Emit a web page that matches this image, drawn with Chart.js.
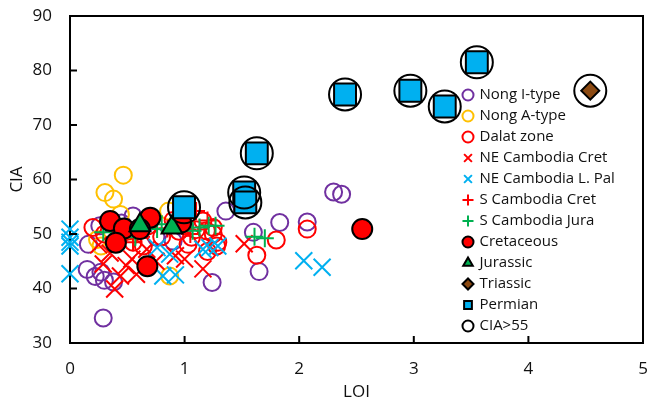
<!DOCTYPE html>
<html>
<head>
<meta charset="utf-8">
<script src="https://cdn.jsdelivr.net/npm/chart.js@4/dist/chart.umd.min.js"></script>
<style>
  body { margin: 0; background: #fff; }
  #wrap { position: relative; width: 648px; height: 404px; }
  #box { position: absolute; box-sizing: border-box; border-top: 2px solid #000; border-right: 2px solid #000;
         pointer-events: none; left: 0; top: 0; width: 0; height: 0; }
</style>
</head>
<body>
<div id="wrap"><canvas id="cia"></canvas><div id="box"></div></div>
<script>
// LOI / CIA pairs
const nongI = [[0.15,43.5],[0.22,42.2],[0.3,41.5],[0.38,41.2],[0.27,43.0],[0.29,34.6],[0.16,48.1],[0.26,51.5],
  [0.55,53.3],[0.45,52.0],[0.9,48.7],[1.24,41.1],[1.36,54.2],[1.6,50.3],[1.83,52.1],[2.07,52.2],[1.65,43.1],
  [2.30,57.7],[2.37,57.3],[0.75,49.5],[1.0,51.5]];
const nongA = [[0.465,60.8],[0.305,57.6],[0.38,56.4],[0.44,53.6],[0.86,54.2],[0.24,49.0],[0.27,47.8],[0.87,42.3],[0.55,50.5]];
const dalat = [[0.2,51.2],[0.3,50.0],[0.42,49.0],[0.55,48.5],[0.64,47.8],[0.8,49.5],[0.95,50.5],[1.03,48.1],[1.06,49.4],
  [1.1,50.8],[1.16,52.4],[1.19,50.6],[1.25,50.0],[1.25,51.2],[1.28,47.8],[1.29,48.5],[1.2,46.8],[1.63,46.1],
  [1.80,48.9],[2.07,50.9],[0.5,50.5],[0.68,51.5],[0.9,52.5]];
const neCret = [[0.29,44.5],[0.39,39.9],[0.44,42.3],[0.49,44.2],[0.54,45.4],[0.58,42.6],[0.67,47.2],[0.35,46.5],
  [0.92,46.0],[1.0,45.4],[1.16,43.6],[1.52,48.2],[0.75,45.0],[0.25,48.0]];
const nePal = [[0,50.9],[0,49.4],[0,48.5],[0,47.8],[0,42.7],[0.76,47.5],[0.81,42.3],[0.92,42.5],[0.87,46.3],
  [1.16,47.2],[1.22,47.5],[1.29,47.8],[2.04,45.1],[2.2,43.9]];
const sCret = [[1.1,54.2],[0.55,48.5],[0.62,49.5],[0.85,51.0],[1.05,50.0],[0.45,50.2],[1.2,52.5]];
const sJura = [[0.29,50.3],[0.57,49.4],[0.76,50.9],[0.8,51.8],[1.07,50.6],[1.13,51.2],[1.21,51.5],[1.27,51.5],
  [1.61,49.5],[1.70,49.2],[0.45,50.8],[0.66,51.0]];
const cretaceous = [[0.35,52.4],[0.47,51.0],[0.70,53.0],[0.40,48.4],[0.61,50.9],[0.675,44.1],[0.97,52.1],[2.55,50.9]];
const jurassic = [[0.61,51.6],[0.89,51.2]];
const triassic = [[4.54,76.3]];
const permian = [[0.995,54.9],[1.52,57.6],[1.53,55.8],[1.63,64.8],[2.40,75.6],[2.97,76.3],[3.27,73.4],[3.55,81.5]];
const cia55 = permian.concat(triassic);

const xTicks = [0, 1, 2, 3, 4, 5];
const yTicks = [30, 40, 50, 60, 70, 80, 90];

const pts = arr => arr.map(p => ({ x: p[0], y: p[1] }));

function series(label, data, style, color, fill, radius) {
  return {
    label: label,
    data: pts(data),
    pointStyle: style,
    pointRadius: radius,
    pointHoverRadius: radius,
    borderColor: fill ? '#000' : color,
    backgroundColor: fill ? color : 'rgba(0,0,0,0)',
    borderWidth: 2,
    clip: false
  };
}

const datasets = [
  series('Nong I-type', nongI, 'circle', '#7030A0', false, 8.5),
  series('Nong A-type', nongA, 'circle', '#FFC000', false, 8.5),
  series('Dalat zone', dalat, 'circle', '#FF0000', false, 8.5),
  series('NE Cambodia Cret', neCret, 'crossRot', '#FF0000', false, 12),
  series('NE Cambodia L. Pal', nePal, 'crossRot', '#00B0F0', false, 12),
  series('S Cambodia Cret', sCret, 'cross', '#FF0000', false, 9),
  series('S Cambodia Jura', sJura, 'cross', '#00B050', false, 9),
  series('Cretaceous', cretaceous, 'circle', '#FF0000', true, 10),
  series('Jurassic', jurassic, 'triangle', '#00B050', true, 12),
  series('Triassic', triassic, 'rectRot', '#8C4A12', true, 9),
  series('Permian', permian, 'rect', '#00B0F0', true, 15.5),
  series('CIA>55', cia55, 'circle', '#000', false, 16)
];
// excel draws later series on top
datasets.forEach((d, i) => { d.order = datasets.length - i; });

// put the legend inside the plot, right side
const legendSpot = {
  id: 'legendSpot',
  afterLayout(chart) {
    const l = chart.legend;
    l.left = 458;
    l.top = 81.5;
    l.right = l.left + l.width;
    l.bottom = 400;
  }
};

// inward tick marks on canvas, top/right frame as an overlay sized from chartArea
const frame = {
  id: 'frame',
  afterDraw(chart) {
    const { ctx, chartArea: a, scales } = chart;
    ctx.save();
    ctx.strokeStyle = '#000';
    ctx.lineWidth = 2;
    ctx.beginPath();
    scales.x.ticks.forEach(t => {
      const px = scales.x.getPixelForValue(t.value);
      ctx.moveTo(px, a.bottom);
      ctx.lineTo(px, a.bottom - 7);
    });
    scales.y.ticks.forEach(t => {
      const py = scales.y.getPixelForValue(t.value);
      ctx.moveTo(a.left, py);
      ctx.lineTo(a.left + 7, py);
    });
    ctx.stroke();
    ctx.restore();

    const box = document.getElementById('box');
    if (box) {
      box.style.left = a.left + 'px';
      box.style.top = (a.top - 1) + 'px';
      box.style.width = (a.right - a.left + 1) + 'px';
      box.style.height = (a.bottom - a.top + 1) + 'px';
    }
  }
};

const font = { family: 'Open Sans', size: 17 };
const noGrid = { drawOnChartArea: false, drawTicks: false, color: 'rgba(0,0,0,0)' };

new Chart(document.getElementById('cia'), {
  type: 'scatter',
  data: { datasets: datasets },
  plugins: [legendSpot, frame],
  options: {
    responsive: true,
    maintainAspectRatio: false,
    animation: false,
    layout: { autoPadding: false, padding: { top: 16, right: 5, left: 0, bottom: 0 } },
    plugins: {
      tooltip: { enabled: false },
      legend: {
        position: 'chartArea',
        align: 'start',
        labels: {
          usePointStyle: true,
          boxWidth: 8,
          boxHeight: 7.8,
          padding: 6,
          color: '#111',
          font: { family: 'Open Sans', size: 15 },
          sort: (a, b) => a.datasetIndex - b.datasetIndex
        }
      }
    },
    scales: {
      x: {
        type: 'linear',
        min: xTicks[0],
        max: xTicks[xTicks.length - 1],
        afterBuildTicks: s => { s.ticks = xTicks.map(v => ({ value: v })); },
        afterFit: s => { s.height = 61; s.paddingLeft = 0; s.paddingRight = 0; },
        ticks: { color: '#111', padding: 16, font: font },
        grid: noGrid,
        border: { color: '#000', width: 2 },
        title: { display: true, text: 'LOI', color: '#111', padding: { top: 0, bottom: 2 }, font: font }
      },
      y: {
        type: 'linear',
        min: yTicks[0],
        max: yTicks[yTicks.length - 1],
        afterBuildTicks: s => { s.ticks = yTicks.map(v => ({ value: v })); },
        afterFit: s => { s.width = 70; s.paddingTop = 0; s.paddingBottom = 0; },
        ticks: { color: '#111', padding: 18, font: font },
        grid: noGrid,
        border: { color: '#000', width: 2 },
        title: { display: true, text: 'CIA', color: '#111', padding: { top: 7, bottom: 0 }, font: font }
      }
    }
  }
});
</script>
</body>
</html>
